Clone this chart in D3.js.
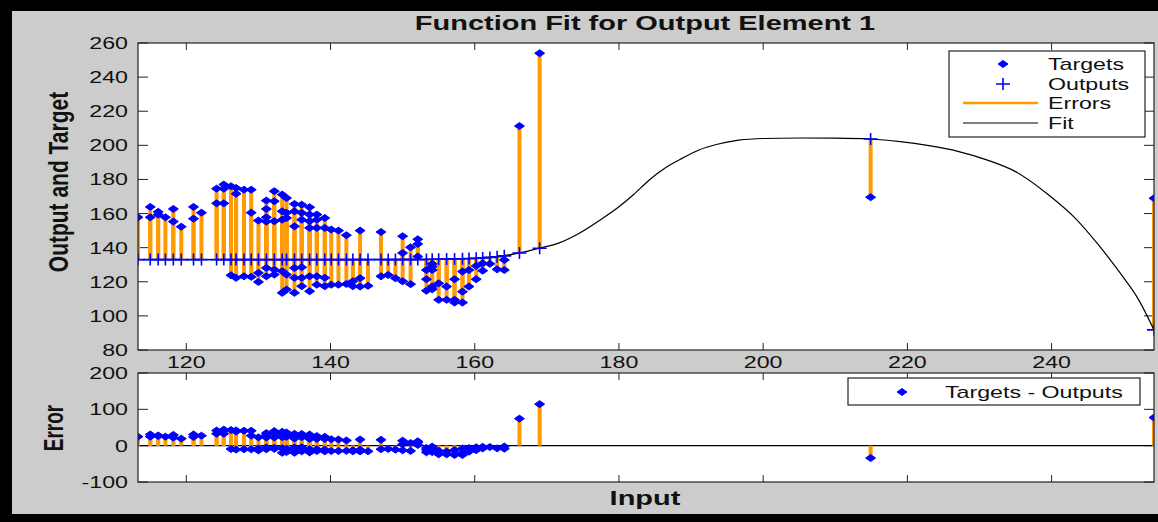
<!DOCTYPE html>
<html>
<head>
<meta charset="utf-8">
<style>
  body { margin: 0; background: #000; }
  text { font-family: "Liberation Sans", Arial, sans-serif; fill: #111; }
</style>
</head>
<body>
<svg width="1158" height="522"></svg>
<script src="https://d3js.org/d3.v7.min.js"></script>
<script>
// one entry per distinct input value
var inputs = [113.3, 115.0, 116.1, 117.1, 118.2, 119.3, 121.0, 122.1, 124.2, 125.2,
  126.2, 126.9, 128.0, 129.0, 130.0, 131.1, 132.2, 133.3, 133.9, 135.0,
  136.0, 137.1, 138.1, 139.2, 140.1, 141.1, 142.2, 143.1, 144.1, 145.2,
  147.0, 148.0, 149.0, 150.0, 151.1, 152.1, 153.3, 154.1, 155.0, 156.1,
  157.2, 158.3, 159.2, 160.2, 161.1, 162.1, 163.1, 164.1, 166.2, 169.0,
  214.9, 254.2];

var outputs = [133.0, 133.0, 133.0, 133.0, 133.0, 133.0, 133.0, 133.0, 133.0, 133.0,
  133.0, 133.0, 133.0, 133.0, 133.0, 133.0, 133.0, 133.0, 133.0, 133.0,
  133.0, 133.0, 133.0, 133.0, 133.0, 133.0, 133.0, 133.0, 133.0, 133.0,
  133.0, 133.0, 133.0, 133.0, 133.0, 133.0, 133.1, 133.2, 133.2, 133.3,
  133.4, 133.5, 133.6, 133.8, 134.0, 134.3, 134.7, 135.2, 136.9, 139.7,
  203.7, 91.8];

// targets seen at each input (several samples share an input)
var targets = [
  [157.8], [163.9, 157.8], [161.0, 159.4], [157.8], [162.7, 155.3],
  [152.3], [163.9, 157.0], [160.5], [174.6, 166.0], [177.0, 174.6, 166.0],
  [176.0, 123.8], [175.0, 171.6, 122.3], [174.0, 123.2], [174.0, 160.5, 122.9], [155.9, 125.2, 119.9],
  [167.6, 162.7, 157.8, 155.3, 128.1, 123.2], [173.1, 167.2, 155.5, 127.1, 124.2],
  [171.1, 161.3, 156.4, 126.2, 113.5], [169.1, 160.4, 157.4, 124.2, 115.4],
  [165.6, 161.3, 152.5, 128.1, 122.3, 113.5], [165.2, 160.4, 156.4, 128.5, 122.3, 117.4],
  [163.7, 159.4, 155.5, 151.6, 123.2, 114.5], [159.4, 156.4, 151.6, 123.2, 118.3],
  [157.4, 151.6, 122.3, 117.4], [150.6, 118.3],
  [150.0, 118.3], [147.3, 118.7], [120.3, 117.4], [150.0, 122.1, 117.2], [117.6],
  [149.2, 123.2], [124.0], [122.1], [146.7, 136.9, 120.3], [140.2, 118.6],
  [144.9, 142.2, 134.8], [126.9, 121.5, 114.8], [130.5, 128.9, 126.9, 117.2, 115.6], [119.1, 109.4], [117.2, 109.4],
  [121.5, 109.4, 107.8], [126.0, 114.2, 107.8], [126.9, 117.2], [129.3, 121.5], [130.8, 126.5],
  [130.5], [127.3], [132.8, 126.9], [211.3], [254.0],
  [169.6], [169.0]];

// fitted curve
var fitInputs = [113.3, 120, 130, 140, 150, 155, 160, 163, 166.2, 169, 171.7, 174.5, 177.3, 180,
  182, 184.2, 186.5, 188.8, 191.1, 193.5, 196.6, 200, 205, 210, 214.9, 219, 223, 227,
  231, 235, 239.6, 243.3, 246.5, 249.7, 252, 254.2];
var fitValues = [133.0, 133.0, 133.0, 133.0, 133.1, 133.2, 133.8, 134.7, 136.9, 139.7, 142.8, 148.5, 156, 164,
  171, 179.7, 187, 192.5, 197.3, 200.5, 203, 204, 204.3, 204.2, 203.7, 202.2, 199.8, 196.5,
  191.5, 184.6, 170.9, 157.2, 141.6, 124, 110, 91.8];

var topTicksY = [80, 100, 120, 140, 160, 180, 200, 220, 240, 260];
var errTicksY = [-100, 0, 100, 200];
var ticksX = [120, 140, 160, 180, 200, 220, 240];
var topLegend = ["Targets", "Outputs", "Errors", "Fit"];

var SX = 1.45;  // picture is stretched sideways
var blue = "#0000ff", orange = "#ff9a00";

var svg = d3.select("svg");
svg.append("rect").attr("width", 1158).attr("height", 522).attr("fill", "#000");
svg.append("rect").attr("x", 12).attr("y", 11).attr("width", 1146).attr("height", 503).attr("fill", "#cccccc");

var left = 138, right = 1154;
var x = d3.scaleLinear().domain([113.3, 254.2]).range([left, right]);
var yTop = d3.scaleLinear().domain([80, 260]).range([350, 43]);
var yErr = d3.scaleLinear().domain([-100, 200]).range([482, 373]);

function txt(g, px, py, s, size, anchor, opts) {
  opts = opts || {};
  var sx = opts.sx || SX;
  return g.append("text")
    .attr("transform", "translate(" + px + "," + py + ") scale(" + sx + ",1)" + (opts.rot ? " rotate(-90)" : ""))
    .attr("text-anchor", anchor)
    .attr("font-size", size)
    .attr("font-weight", opts.bold ? "bold" : "normal")
    .text(s);
}

function diamond(g, cx, cy) {
  g.append("path")
    .attr("d", "M" + (cx - 5) + "," + cy + "L" + cx + "," + (cy - 3.5) + "L" + (cx + 5) + "," + cy + "L" + cx + "," + (cy + 3.5) + "Z")
    .attr("fill", blue).attr("stroke", blue).attr("stroke-width", 1);
}

function cross(g, cx, cy) {
  g.append("path")
    .attr("d", "M" + (cx - 7) + "," + cy + "H" + (cx + 7) + "M" + cx + "," + (cy - 6) + "V" + (cy + 6))
    .attr("stroke", blue).attr("stroke-width", 1.6).attr("fill", "none");
}

function frame(y, ticksY) {
  var y0 = y.range()[0], y1 = y.range()[1];
  svg.append("rect").attr("x", left).attr("y", y1).attr("width", right - left).attr("height", y0 - y1)
    .attr("fill", "#fff");
  var g = svg.append("g");
  ticksX.forEach(function (t) {
    g.append("line").attr("x1", x(t)).attr("x2", x(t)).attr("y1", y0).attr("y2", y0 - 7).attr("stroke", "#222");
    g.append("line").attr("x1", x(t)).attr("x2", x(t)).attr("y1", y1).attr("y2", y1 + 7).attr("stroke", "#222");
  });
  ticksY.forEach(function (t) {
    g.append("line").attr("x1", left).attr("x2", left + 10).attr("y1", y(t)).attr("y2", y(t)).attr("stroke", "#222");
    g.append("line").attr("x1", right).attr("x2", right - 10).attr("y1", y(t)).attr("y2", y(t)).attr("stroke", "#222");
    txt(svg, 128, y(t) + 6, t, 16, "end");
  });
  return g;
}

function border(y) {
  svg.append("rect").attr("x", left).attr("y", y.range()[1]).attr("width", right - left)
    .attr("height", y.range()[0] - y.range()[1]).attr("fill", "none").attr("stroke", "#222").attr("stroke-width", 1.2);
}

svg.append("clipPath").attr("id", "clipTop").append("rect")
  .attr("x", left).attr("y", 43).attr("width", right - left).attr("height", 307);
svg.append("clipPath").attr("id", "clipErr").append("rect")
  .attr("x", left).attr("y", 373).attr("width", right - left).attr("height", 109);

// ---- top plot ----
frame(yTop, topTicksY);
var gTop = svg.append("g").attr("clip-path", "url(#clipTop)");

inputs.forEach(function (d, i) {
  targets[i].forEach(function (t) {
    gTop.append("line").attr("x1", x(d)).attr("x2", x(d)).attr("y1", yTop(outputs[i])).attr("y2", yTop(t))
      .attr("stroke", orange).attr("stroke-width", 4);
  });
});

var line = d3.line()
  .x(function (d, i) { return x(fitInputs[i]); })
  .y(function (d) { return yTop(d); })
  .curve(d3.curveMonotoneX);
gTop.append("path").datum(fitValues).attr("fill", "none").attr("stroke", "#000").attr("stroke-width", 1.2).attr("d", line);

inputs.forEach(function (d, i) { cross(gTop, x(d), yTop(outputs[i])); });
inputs.forEach(function (d, i) {
  targets[i].forEach(function (t) { diamond(gTop, x(d), yTop(t)); });
});
border(yTop);

ticksX.forEach(function (t) { txt(svg, x(t), 368, t, 16, "middle"); });

// legend, top plot
var lg = svg.append("g");
lg.append("rect").attr("x", 949).attr("y", 51).attr("width", 196).attr("height", 86)
  .attr("fill", "#fff").attr("stroke", "#222").attr("stroke-width", 1.2);
var rowY = [64, 84, 103, 123];
topLegend.forEach(function (s, i) { txt(lg, 1048, rowY[i] + 6, s, 16, "start"); });
diamond(lg, 1003, rowY[0]);
cross(lg, 1003, rowY[1]);
lg.append("line").attr("x1", 963).attr("x2", 1038).attr("y1", rowY[2]).attr("y2", rowY[2]).attr("stroke", orange).attr("stroke-width", 2.5);
lg.append("line").attr("x1", 963).attr("x2", 1038).attr("y1", rowY[3]).attr("y2", rowY[3]).attr("stroke", "#000").attr("stroke-width", 1);

// ---- error plot ----
frame(yErr, errTicksY);
var gErr = svg.append("g").attr("clip-path", "url(#clipErr)");
gErr.append("line").attr("x1", left).attr("x2", right).attr("y1", yErr(0)).attr("y2", yErr(0)).attr("stroke", "#000").attr("stroke-width", 1.2);
inputs.forEach(function (d, i) {
  targets[i].forEach(function (t) {
    gErr.append("line").attr("x1", x(d)).attr("x2", x(d)).attr("y1", yErr(0)).attr("y2", yErr(t - outputs[i]))
      .attr("stroke", orange).attr("stroke-width", 4);
  });
});
inputs.forEach(function (d, i) {
  targets[i].forEach(function (t) { diamond(gErr, x(d), yErr(t - outputs[i])); });
});
border(yErr);

var lg2 = svg.append("g");
lg2.append("rect").attr("x", 848).attr("y", 378).attr("width", 292).attr("height", 27)
  .attr("fill", "#fff").attr("stroke", "#222").attr("stroke-width", 1.2);
diamond(lg2, 902, 392);
txt(lg2, 945, 398, "Targets - Outputs", 16, "start");

// ---- titles ----
txt(svg, 645, 30, "Function Fit for Output Element 1", 20, "middle", { bold: true });
txt(svg, 645, 505, "Input", 20, "middle", { bold: true });
txt(svg, 68, 182, "Output and Target", 21, "middle", { bold: true, rot: true, sx: 1.32 });
txt(svg, 63, 428, "Error", 19, "middle", { bold: true, rot: true, sx: 1.5 });
</script>
</body>
</html>
